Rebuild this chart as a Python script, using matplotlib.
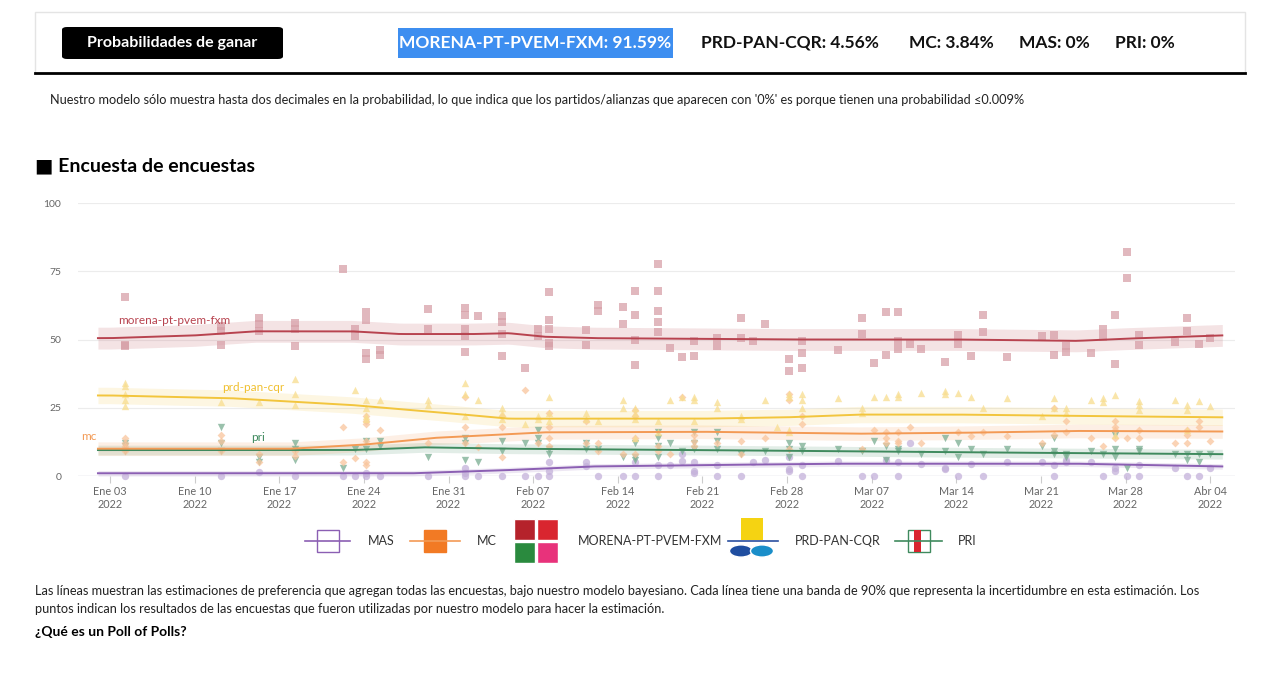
import numpy as np
import matplotlib
matplotlib.use("Agg")
import matplotlib.pyplot as plt
from matplotlib.patches import FancyBboxPatch, Rectangle

plt.rcParams['font.family'] = ['Lato', 'DejaVu Sans']

W, H = 1280, 678

# ---- data (day offsets from Ene 03 2022) ----
tick_days = [0, 7, 14, 21, 28, 35, 42, 49, 56, 63, 70, 77, 84, 91]
tick_labels = ["Ene 03", "Ene 10", "Ene 17", "Ene 24", "Ene 31", "Feb 07", "Feb 14",
               "Feb 21", "Feb 28", "Mar 07", "Mar 14", "Mar 21", "Mar 28", "Abr 04"]

morena_trend_d = [0, 7, 12, 20, 24, 30, 33, 36, 40, 56, 70, 80, 84, 92]
morena_trend_v = [50.5, 51.5, 53, 53, 52, 52, 52.3, 51, 50.5, 50, 50, 49.5, 50.3, 51.5]
prd_trend_d = [0, 10, 20, 28, 33, 49, 56, 62, 70, 80, 92]
prd_trend_v = [29.5, 28.5, 26, 23, 21, 21, 21.5, 22.5, 22.5, 22, 21.5]
mc_trend_d = [0, 15, 21, 27, 33, 36, 49, 62, 70, 80, 92]
mc_trend_v = [10, 10, 11.5, 14, 15.3, 16, 16.2, 15.5, 15.8, 16.5, 16.3]
pri_trend_d = [0, 20, 26, 33, 49, 70, 92]
pri_trend_v = [9.5, 9.5, 10.5, 10, 9.5, 8.7, 8]
mas_trend_d = [0, 25, 32, 40, 49, 60, 80, 92]
mas_trend_v = [1, 1, 2, 3.5, 4, 4.5, 4.5, 3.5]

morena_pts = {1.2: [65.6, 48, 47.5], 9.2: [55, 53, 48], 12.3: [58, 55.5, 53], 15.3: [56, 54, 47.5],
              19.3: [76], 20.3: [53.7, 51.3], 21.2: [60, 57, 45, 43], 22.3: [46.3, 44.5],
              26.3: [61, 54], 29.4: [61.6, 59, 53.7, 51.2, 45.5], 30.4: [58.5],
              32.4: [58.5, 56.3, 52, 44], 34.3: [39.4], 35.4: [53.7, 51.2],
              36.3: [67.5, 57.3, 54, 48.8, 47.5], 39.4: [53.4, 48], 40.4: [62.8, 60.4],
              42.4: [62, 55.5], 43.4: [67.7, 59, 50, 40.8], 45.3: [77.5, 67.7, 60.4, 56.5, 52.7],
              46.3: [47], 47.3: [43.5], 48.3: [49.6, 44], 50.2: [50.6, 47.5], 52.2: [58, 50.7],
              53.2: [49.6], 54.2: [55.7], 56.2: [42.7, 38.4], 57.2: [49.6, 45, 39.6], 60.2: [46.2],
              62.2: [57.8, 52], 63.2: [41.4], 64.2: [60, 44.5], 65.2: [60, 49.4, 46.6], 66.2: [48.4],
              67.1: [46.6], 69.1: [41.7], 70.1: [51.5, 48.2], 71.2: [43.9], 72.2: [58.8, 52.8],
              74.2: [43.5], 77.1: [51.2], 78.1: [51.8, 44.3], 79.1: [47.5, 45.4], 81.1: [45],
              82.1: [53.7, 50.8], 83.1: [59, 41.2], 84.1: [82, 72.5], 85.1: [51.8, 48],
              88.1: [49], 89.1: [58, 53], 90.1: [48.2], 91.0: [50.4]}
prd_pts = {1.2: [34, 33, 30, 28, 25.5], 9.2: [27], 12.3: [27], 15.3: [35.5, 30, 26], 20.3: [31.5],
           21.2: [28, 25, 22, 21], 22.3: [28], 26.3: [28, 26], 29.4: [34, 30, 22], 30.4: [28],
           32.4: [25, 23, 21], 34.3: [19], 35.4: [22, 21], 36.3: [29, 23, 20], 39.4: [23, 21],
           40.4: [20], 42.4: [28, 25], 43.4: [25, 23, 21, 14], 45.3: [20, 16], 46.3: [28],
           47.3: [29], 48.3: [29, 28, 20], 50.2: [27, 25], 52.2: [22, 21], 54.2: [28],
           55.2: [18], 56.2: [30, 29, 17, 16], 57.2: [30, 28, 25], 60.2: [28.5], 62.2: [25, 23],
           63.2: [29], 64.2: [29], 65.2: [30, 29], 67.1: [30.5], 69.1: [31, 30], 70.1: [30.5],
           71.2: [29], 72.2: [25], 74.2: [28.5], 77.1: [22], 78.1: [28.5, 25], 79.1: [25, 23],
           81.1: [28], 82.1: [28.5, 27], 83.1: [29.5, 15], 85.1: [27.5, 26, 24], 88.1: [28],
           89.1: [26, 24, 17], 90.1: [27.5], 91.0: [25.5]}
mc_pts = {1.2: [14, 12, 11, 10, 9], 9.2: [15, 13, 9], 12.3: [8, 5], 15.3: [9, 7.5], 19.3: [18, 5],
          20.3: [6.5], 21.2: [22, 20, 19, 13, 5, 4], 22.3: [17], 26.3: [12], 29.4: [18, 29, 12],
          30.4: [10.5], 32.4: [22, 18, 7], 34.3: [31.5], 35.4: [12], 36.3: [23, 18, 14, 11],
          39.4: [20, 12], 40.4: [12, 9], 42.4: [8], 43.4: [24, 22, 14, 8], 45.3: [11, 9],
          46.3: [8], 47.3: [29], 48.3: [15, 13, 11], 50.2: [12], 52.2: [13, 8], 54.2: [14],
          56.2: [30, 28, 10], 57.2: [22, 19], 62.2: [10], 63.2: [17], 64.2: [16, 14, 12],
          65.2: [16, 13, 12], 66.2: [18], 67.1: [12], 70.1: [16], 71.2: [14.5], 72.2: [16],
          74.2: [14.5], 77.1: [12], 78.1: [25, 15], 79.1: [20, 16], 81.1: [14], 82.1: [11],
          83.1: [20, 18, 17, 14], 84.1: [14], 85.1: [17, 14], 88.1: [12], 89.1: [17, 15, 12],
          90.1: [20, 18], 91.0: [13]}
pri_pts = {1.2: [12, 11, 9], 9.2: [18, 12, 9], 12.3: [7, 5], 15.3: [12, 10, 6], 19.3: [3],
           20.3: [10], 21.2: [13, 10], 22.3: [13, 11], 26.3: [7], 29.4: [14, 12, 6], 30.4: [5],
           32.4: [13, 9], 34.3: [12], 35.4: [17, 14, 12], 36.3: [10, 8], 39.4: [12, 10],
           40.4: [10], 42.4: [7], 43.4: [12, 7, 6], 45.3: [16, 14, 11, 7], 46.3: [12], 47.3: [9],
           48.3: [16, 12, 10], 50.2: [16, 13, 10], 52.2: [8], 54.2: [9], 56.2: [12, 10, 7],
           57.2: [11, 9], 60.2: [10], 62.2: [9], 63.2: [13], 64.2: [11, 6], 65.2: [10, 9],
           67.1: [8], 69.1: [9, 14], 70.1: [12, 7], 71.2: [10], 72.2: [8], 74.2: [10], 77.1: [11],
           78.1: [14, 9, 8], 79.1: [8, 7], 81.1: [9], 82.1: [8], 83.1: [15, 10, 7], 84.1: [3],
           85.1: [10, 9], 88.1: [8], 89.1: [8, 6], 90.1: [8, 5], 91.0: [8]}
mas_pts = {1.2: [0], 9.2: [0], 12.3: [1.5], 15.3: [0], 19.3: [0], 20.3: [0], 21.2: [0, 1],
           22.3: [0], 26.3: [0], 29.4: [3, 1, 0], 30.4: [0], 32.4: [0], 34.3: [0], 35.4: [0],
           36.3: [5, 2, 0], 39.4: [5, 3.5], 40.4: [0], 42.4: [0], 43.4: [0, 5], 45.3: [0, 4],
           46.3: [4], 47.3: [8, 5.5], 48.3: [5, 2, 1], 50.2: [0, 4], 52.2: [0], 53.2: [5],
           54.2: [6], 56.2: [7, 2, 2.5], 57.2: [4, 0], 60.2: [5.5], 62.2: [0], 63.2: [0],
           64.2: [6], 65.2: [5, 0], 66.2: [12], 67.1: [4.5], 69.1: [3, 2.5], 70.1: [0],
           71.2: [4.5], 72.2: [0], 74.2: [5], 77.1: [5], 78.1: [4, 0], 79.1: [6, 5], 81.1: [5],
           82.1: [0], 83.1: [3, 2], 84.1: [0], 85.1: [4, 0], 88.1: [3], 89.1: [0], 90.1: [0],
           91.0: [3]}

fig = plt.figure(figsize=(W / 100, H / 100), dpi=100)
fig.patch.set_facecolor("white")


def fx(px):
    return px / W


def fy(py):
    return 1 - py / H


# ---- header ----
fig.patches.append(Rectangle((fx(35), fy(73)), fx(1245) - fx(35), fy(12) - fy(73),
                             transform=fig.transFigure, facecolor="white",
                             edgecolor="#e4e4e4", lw=1))
fig.lines.append(plt.Line2D([fx(35), fx(1245)], [fy(73), fy(73)], transform=fig.transFigure,
                            color="black", lw=2))
fig.patches.append(FancyBboxPatch((fx(62), fy(59)), fx(283) - fx(62), fy(27) - fy(59),
                                  boxstyle="round,pad=0,rounding_size=0.004",
                                  transform=fig.transFigure, facecolor="black", edgecolor="none"))
fig.text(fx(172), fy(43), "Probabilidades de ganar", color="white", fontsize=11.5,
         fontweight="bold", ha="center", va="center")
fig.patches.append(Rectangle((fx(398), fy(58)), fx(673) - fx(398), fy(28) - fy(58),
                             transform=fig.transFigure, facecolor="#3d8ef0", edgecolor="none"))
fig.text(fx(535), fy(43), "MORENA-PT-PVEM-FXM: 91.59%", color="white", fontsize=12.5,
         fontweight="bold", ha="center", va="center")
for xx, s in [(790, "PRD-PAN-CQR: 4.56%"), (951, "MC: 3.84%"), (1054, "MAS: 0%"), (1145, "PRI: 0%")]:
    fig.text(fx(xx), fy(43), s, color="#111111", fontsize=12.5, fontweight="bold",
             ha="center", va="center")
fig.text(fx(50), fy(100), "Nuestro modelo sólo muestra hasta dos decimales en la probabilidad, lo que indica "
         "que los partidos/alianzas que aparecen con '0%' es porque tienen una probabilidad ≤0.009%",
         fontsize=9.2, color="#222222", va="center")
fig.text(fx(35), fy(166), "■ Encuesta de encuestas", fontsize=14, fontweight="bold", va="center")

# ---- chart ----
ax = fig.add_axes([fx(78), fy(476), fx(1235) - fx(78), fy(203) - fy(476)])
ax.set_xlim(-2.65, 93.05)
ax.set_ylim(0, 100)
for s in ax.spines.values():
    s.set_visible(False)
for v in [25, 50, 75, 100]:
    ax.axhline(v, color="#ececec", lw=0.8, zorder=0)
ax.axhline(0, color="#d5d5e0", lw=1, zorder=0)
ax.set_yticks([0, 25, 50, 75, 100])
ax.set_yticklabels(["0", "25", "50", "75", "100"], fontsize=7.5, color="#666666")
ax.set_xticks(tick_days)
ax.set_xticklabels([t + "\n2022" for t in tick_labels], fontsize=7.8, color="#666666")
ax.tick_params(axis="y", length=0, pad=12)
ax.tick_params(axis="x", length=5, color="#cccccc", pad=2)

series = [
    (mas_trend_d, mas_trend_v, 1.0, mas_pts, "o", "#8b5fb3", "#c4b1da"),
    (pri_trend_d, pri_trend_v, 1.8, pri_pts, "v", "#3f8a5e", "#79ad91"),
    (mc_trend_d, mc_trend_v, 2.5, mc_pts, "D", "#f39a55", "#f9c59c"),
    (prd_trend_d, prd_trend_v, 3.0, prd_pts, "^", "#f2c53d", "#f8dd8e"),
    (morena_trend_d, morena_trend_v, 4.0, morena_pts, "s", "#b8434f", "#d7a0a8"),
]
for td, tv, band, pts, mk, lc, pc in series:
    xs = np.linspace(-1, 92, 300)
    yv = np.interp(xs, td, tv)
    ax.fill_between(xs, yv - band, yv + band, color=lc, alpha=0.15, lw=0, zorder=1)
    px = [d for d, vals in pts.items() for _ in vals]
    py = [v for vals in pts.values() for v in vals]
    ax.scatter(px, py, marker=mk, s=28 if mk != "D" else 16, color=pc, alpha=0.75,
               lw=0, zorder=2, clip_on=False)
    ax.plot(xs, yv, color=lc, lw=1.4, zorder=3)

ax.text(0.7, 57, "morena-pt-pvem-fxm", color="#b8434f", fontsize=8.5, va="center")
ax.text(9.3, 32.5, "prd-pan-cqr", color="#f0c030", fontsize=8.5, va="center")
ax.text(-2.4, 14.5, "mc", color="#f39a55", fontsize=8.5, va="center")
ax.text(11.7, 14.2, "pri", color="#3f8a5e", fontsize=8.5, va="center")

# ---- legend ----
leg = [(305, 350, 368, "MAS", "#8b5fb3"),
       (410, 460, 477, "MC", "#f39a55"),
       (512, 560, 578, "MORENA-PT-PVEM-FXM", "#b8434f"),
       (728, 778, 795, "PRD-PAN-CQR", "#2a4fa0"),
       (895, 942, 958, "PRI", "#3f8a5e")]
for x0, x1, tx, name, c in leg:
    if name == "MORENA-PT-PVEM-FXM":
        for (bx, by, col) in [(514, 519, "#b5222b"), (537, 519, "#d9252f"),
                              (514, 542, "#2a8a3e"), (537, 542, "#e8327b")]:
            fig.patches.append(Rectangle((fx(bx), fy(by + 21)), fx(21), 21 / H,
                                         transform=fig.transFigure, facecolor=col, edgecolor="white"))
    elif name == "PRD-PAN-CQR":
        fig.lines.append(plt.Line2D([fx(728), fx(778)], [fy(541), fy(541)],
                                    transform=fig.transFigure, color=c, lw=1.2))
        fig.patches.append(Rectangle((fx(741), fy(540)), fx(22), 22 / H,
                                     transform=fig.transFigure, facecolor="#f5d312", edgecolor="none"))
        fig.patches.append(plt.Circle((fx(741), fy(551)), 0.009, transform=fig.transFigure,
                                      facecolor="#1f4ea0", edgecolor="white"))
        fig.patches.append(plt.Circle((fx(762), fy(551)), 0.009, transform=fig.transFigure,
                                      facecolor="#1a8ec9", edgecolor="white"))
    else:
        fig.lines.append(plt.Line2D([fx(x0), fx(x1)], [fy(541), fy(541)],
                                    transform=fig.transFigure, color=c, lw=1.2))
        fc = {"MAS": "#ffffff", "MC": "#f27a24", "PRI": "#ffffff"}[name]
        ec = {"MAS": "#8b5fb3", "MC": "#f27a24", "PRI": "#3f8a5e"}[name]
        fig.patches.append(Rectangle((fx((x0 + x1) / 2 - 11), fy(552)), fx(22), 22 / H,
                                     transform=fig.transFigure, facecolor=fc, edgecolor=ec))
        if name == "PRI":
            fig.patches.append(Rectangle((fx(914), fy(552)), fx(7), 22 / H,
                                         transform=fig.transFigure, facecolor="#d9252f", edgecolor="none"))
    fig.text(fx(tx), fy(541), name, fontsize=9, color="#333333", va="center")

# ---- footer ----
fig.text(fx(35), fy(591), "Las líneas muestran las estimaciones de preferencia que agregan todas las encuestas, "
         "bajo nuestro modelo bayesiano. Cada línea tiene una banda de 90% que representa la incertidumbre "
         "en esta estimación. Los", fontsize=9.2, color="#222222", va="center")
fig.text(fx(35), fy(609), "puntos indican los resultados de las encuestas que fueron utilizadas por nuestro "
         "modelo para hacer la estimación.", fontsize=9.2, color="#222222", va="center")
fig.text(fx(35), fy(632), "¿Qué es un Poll of Polls?", fontsize=10, fontweight="bold", va="center")

fig.savefig("out.png", dpi=100)
